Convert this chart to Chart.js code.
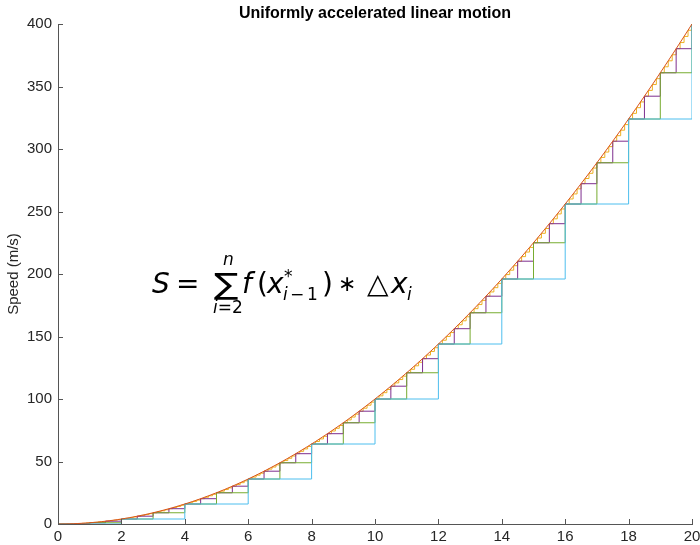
<!DOCTYPE html>
<html>
<head>
<meta charset="utf-8">
<script src="https://cdn.jsdelivr.net/npm/chart.js@4"></script>
<style>
body{margin:0;background:#fff}
</style>
</head>
<body>
<canvas id="myChart" width="700" height="545"></canvas>
<script>
// speed (m/s) read every dt seconds, t = 0 .. 20
let dt = 0.125
let speed = [
  0, 0.02, 0.06, 0.14, 0.25, 0.39, 0.56, 0.77,
  1, 1.27, 1.56, 1.89, 2.25, 2.64, 3.06, 3.52,
  4, 4.52, 5.06, 5.64, 6.25, 6.89, 7.56, 8.27,
  9, 9.77, 10.56, 11.39, 12.25, 13.14, 14.06, 15.02,
  16, 17.02, 18.06, 19.14, 20.25, 21.39, 22.56, 23.77,
  25, 26.27, 27.56, 28.89, 30.25, 31.64, 33.06, 34.52,
  36, 37.52, 39.06, 40.64, 42.25, 43.89, 45.56, 47.27,
  49, 50.77, 52.56, 54.39, 56.25, 58.14, 60.06, 62.02,
  64, 66.02, 68.06, 70.14, 72.25, 74.39, 76.56, 78.77,
  81, 83.27, 85.56, 87.89, 90.25, 92.64, 95.06, 97.52,
  100, 102.52, 105.06, 107.64, 110.25, 112.89, 115.56, 118.27,
  121, 123.77, 126.56, 129.39, 132.25, 135.14, 138.06, 141.02,
  144, 147.02, 150.06, 153.14, 156.25, 159.39, 162.56, 165.77,
  169, 172.27, 175.56, 178.89, 182.25, 185.64, 189.06, 192.52,
  196, 199.52, 203.06, 206.64, 210.25, 213.89, 217.56, 221.27,
  225, 228.77, 232.56, 236.39, 240.25, 244.14, 248.06, 252.02,
  256, 260.02, 264.06, 268.14, 272.25, 276.39, 280.56, 284.77,
  289, 293.27, 297.56, 301.89, 306.25, 310.64, 315.06, 319.52,
  324, 328.52, 333.06, 337.64, 342.25, 346.89, 351.56, 356.27,
  361, 365.77, 370.56, 375.39, 380.25, 385.14, 390.06, 395.02,
  400
]
let stepSizes = [2, 1, 0.5, 0.125]
let stepColors = ['#4DBEEE', '#77AC30', '#7E2F8E', '#EDB120']
let curveColor = '#D95319'
let xTicks = [0, 2, 4, 6, 8, 10, 12, 14, 16, 18, 20]
let yTicks = [0, 50, 100, 150, 200, 250, 300, 350, 400]

let time = speed.map((v, i) => i * dt)
let font = '"Liberation Sans", Arial, sans-serif'

// left riemann sum: keep every n-th sample, drawn as a staircase
function stairs(h) {
  let every = Math.round(h / dt)
  let pts = []
  for (let i = 0; i < speed.length; i += every) pts.push({x: time[i], y: speed[i]})
  return pts
}

let datasets = [{
  data: time.map((t, i) => ({x: t, y: speed[i]})),
  borderColor: curveColor,
  borderWidth: 1,
  pointRadius: 0,
  showLine: true
}]
stepSizes.forEach((h, k) => {
  datasets.push({
    data: stairs(h),
    borderColor: stepColors[k],
    borderWidth: 1,
    pointRadius: 0,
    showLine: true,
    stepped: true
  })
})

const extras = {
  id: 'extras',
  afterDraw(chart) {
    const {ctx, chartArea: a, scales: {x, y}} = chart
    ctx.save()
    // inward tick marks
    ctx.strokeStyle = '#555'
    ctx.lineWidth = 1
    ctx.beginPath()
    for (const t of xTicks) {
      let px = Math.round(x.getPixelForValue(t)) + 0.5
      ctx.moveTo(px, a.bottom)
      ctx.lineTo(px, a.bottom - 5)
    }
    for (const t of yTicks) {
      let py = Math.round(y.getPixelForValue(t)) + 0.5
      ctx.moveTo(a.left, py)
      ctx.lineTo(a.left + 5, py)
    }
    ctx.stroke()

    // title
    ctx.fillStyle = '#000'
    ctx.textAlign = 'center'
    ctx.textBaseline = 'alphabetic'
    ctx.font = 'bold 16px ' + font
    ctx.fillText('Uniformly accelerated linear motion', (a.left + a.right) / 2, 18)

    // formula
    ctx.textAlign = 'left'
    let ox = x.getPixelForValue(3), oy = y.getPixelForValue(185)
    let m = '"DejaVu Sans", sans-serif'
    function t(s, dx, dy, size, it) {
      ctx.font = (it ? 'italic ' : '') + size + 'px ' + m
      ctx.fillText(s, ox + dx, oy + dy)
      return dx + ctx.measureText(s).width
    }
    t('S', -1, 0, 28, true)
    t('=', 23, 0, 28)
    ctx.save()
    ctx.translate(ox + 61, oy + 1)
    ctx.scale(1.3, 1.05)
    ctx.font = '28px ' + m
    ctx.fillText('\u2211', 0, 0)
    ctx.restore()
    t('n', 70, -28, 17, true)
    let d = t('i', 60, 20, 17, true)
    t('=2', d, 20, 17)
    t('f', 89, 0, 28, true)
    t('(', 104, 0, 28)
    t('x', 114, 0, 28, true)
    t('*', 131, -11, 17)
    t('i', 130, 7, 17, true)
    t('\u2212', 137, 7, 17)
    t('1', 154, 7, 17)
    t(')', 169, 0, 28)
    t('\u2217', 185, -2, 22)
    t('\u25B3', 214, 0, 28)
    t('x', 238, 0, 28, true)
    t('i', 254, 7, 17, true)
    ctx.restore()
  }
}

new Chart(document.getElementById('myChart'), {
  type: 'scatter',
  data: {datasets},
  options: {
    responsive: false,
    devicePixelRatio: 1,
    animation: false,
    layout: {autoPadding: false, padding: {top: 24, right: 8, left: 0, bottom: 0}},
    plugins: {legend: {display: false}, tooltip: {enabled: false}},
    scales: {
      x: {
        type: 'linear', min: 0, max: 20,
        afterFit(s) { s.height = 21; s.paddingLeft = 0; s.paddingRight = 0 },
        afterBuildTicks(s) { s.ticks = xTicks.map(v => ({value: v})) },
        grid: {display: false, drawTicks: false},
        border: {display: true, color: '#555'},
        ticks: {font: {size: 15, family: font}, color: '#262626', padding: 4, maxRotation: 0}
      },
      y: {
        type: 'linear', min: 0, max: 400,
        afterFit(s) { s.width = 58; s.paddingTop = 0; s.paddingBottom = 0 },
        afterBuildTicks(s) { s.ticks = yTicks.map(v => ({value: v})) },
        grid: {display: false, drawTicks: false},
        border: {display: true, color: '#555'},
        ticks: {font: {size: 15, family: font}, color: '#262626', padding: 6},
        title: {display: true, text: 'Speed (m/s)', font: {size: 15, family: font}, color: '#262626', padding: {top: 5, bottom: 0}}
      }
    }
  },
  plugins: [extras]
})
</script>
</body>
</html>
